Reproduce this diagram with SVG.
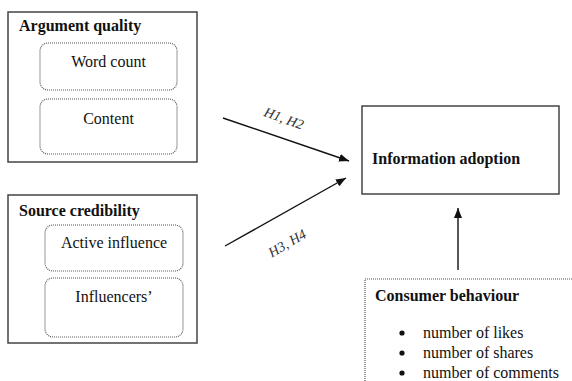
<svg xmlns="http://www.w3.org/2000/svg" width="572" height="381" viewBox="0 0 572 381" font-family="'Liberation Serif', 'Times New Roman', Times, 'DejaVu Serif', serif">
<defs>
<marker id="ah" viewBox="0 0 10 8" refX="10" refY="4" markerWidth="10" markerHeight="8" markerUnits="userSpaceOnUse" orient="auto">
<path d="M0,0 L10,4 L0,8 Z" fill="#111"/>
</marker>
</defs>
<style>
.box{fill:#fff;stroke:#444;stroke-width:1.5}
.dot{fill:#fff;stroke:#555;stroke-width:1.2;stroke-dasharray:1 1}
.t{font-size:16px;fill:#111}
.b{font-weight:bold}
.h{font-size:14px;font-style:italic;fill:#333}
.c{stroke:#111;stroke-width:1.4;fill:none}
</style>
<rect width="572" height="381" fill="#fff"/>
<g id="argument-quality">
<rect class="box" x="8" y="12" width="189" height="150"/>
<text class="t b" x="19" y="31">Argument quality</text>
<rect class="dot" x="40" y="43" width="137" height="47" rx="8"/>
<text class="t" x="108.5" y="67" text-anchor="middle">Word count</text>
<rect class="dot" x="40" y="99" width="137" height="55" rx="8"/>
<text class="t" x="108.5" y="124" text-anchor="middle">Content</text>
</g>
<g id="source-credibility">
<rect class="box" x="8" y="195" width="189" height="148"/>
<text class="t b" x="19" y="216">Source credibility</text>
<rect class="dot" x="45" y="225" width="138" height="46" rx="8"/>
<text class="t" x="114" y="248" text-anchor="middle">Active influence</text>
<rect class="dot" x="45" y="278" width="138" height="59" rx="8"/>
<text class="t" x="114" y="302" text-anchor="middle">Influencers’</text>
</g>
<g id="information-adoption">
<rect class="box" x="362" y="106" width="197" height="88"/>
<text class="t b" x="372" y="164">Information adoption</text>
</g>
<g id="consumer-behaviour">
<rect class="dot" x="365" y="279" width="230" height="130"/>
<text class="t b" x="375" y="301">Consumer behaviour</text>
<circle cx="402" cy="333" r="2.6" fill="#111"/>
<circle cx="402" cy="353" r="2.6" fill="#111"/>
<circle cx="402" cy="373" r="2.6" fill="#111"/>
<text class="t" x="423" y="338">number of likes</text>
<text class="t" x="423" y="358">number of shares</text>
<text class="t" x="423" y="378">number of comments</text>
</g>
<g id="connectors">
<line class="c" x1="223" y1="118" x2="349" y2="161" marker-end="url(#ah)"/>
<line class="c" x1="225" y1="246" x2="346" y2="178" marker-end="url(#ah)"/>
<line class="c" x1="458" y1="270" x2="458" y2="208" marker-end="url(#ah)"/>
<text class="h" x="284" y="123" text-anchor="middle" transform="rotate(20 284 118)">H1, H2</text>
<text class="h" x="287" y="248" text-anchor="middle" transform="rotate(-30 287 243)">H3, H4</text>
</g>
</svg>
